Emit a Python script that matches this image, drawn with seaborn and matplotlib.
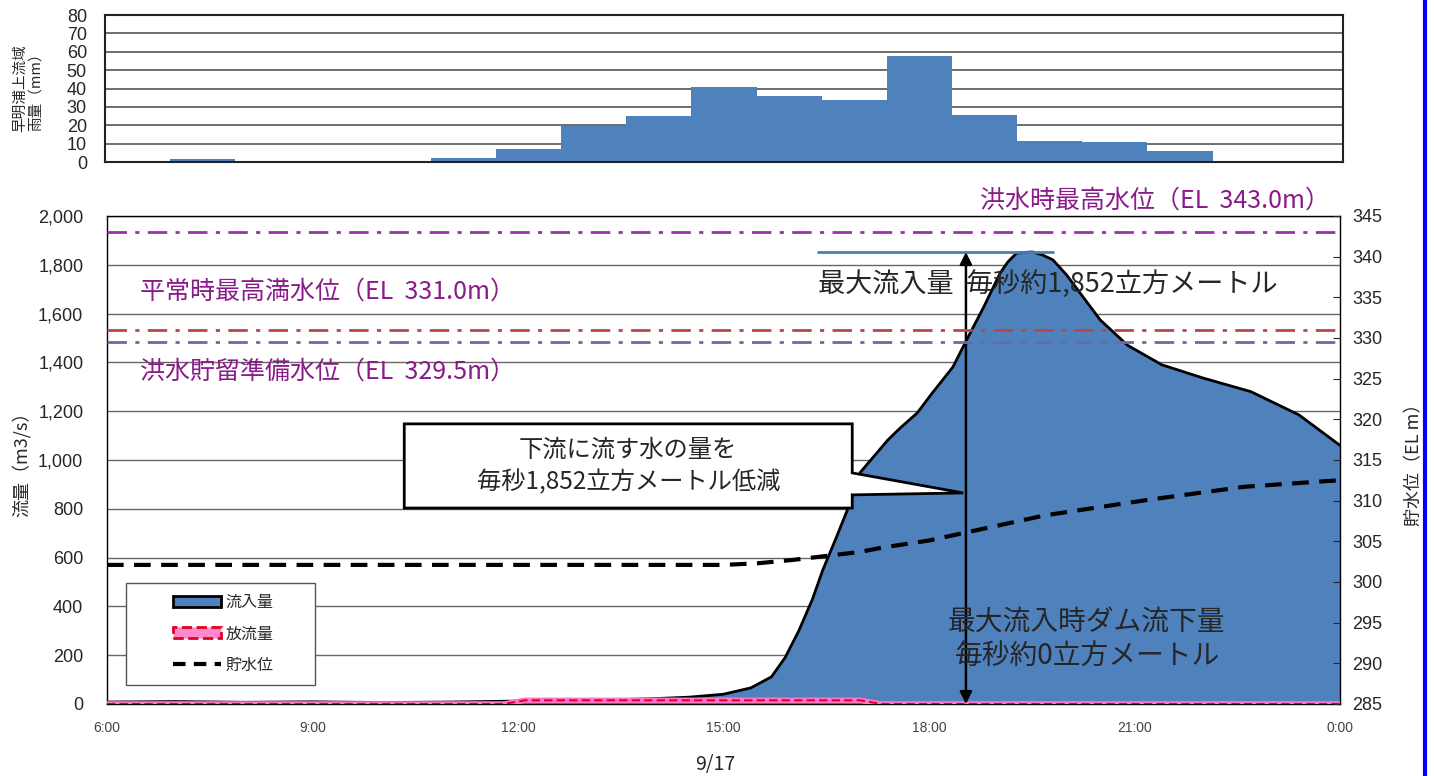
import numpy as np
import seaborn as sns
import matplotlib.pyplot as plt
from matplotlib.patches import Patch, Polygon, Rectangle
from matplotlib.lines import Line2D
from matplotlib.ticker import FuncFormatter

# hourly rainfall (mm), 19 bins
rain = [0.5, 1.6, 0.5, 0, 0, 2, 7.2, 19.4, 25.2, 40.7, 35.8, 33.5, 57.7,
        25.5, 11.4, 10.9, 5.8, 0.5, 0]

# inflow (m3/s) vs hour of day
inflow_hours = [6, 7, 8, 9, 10, 11, 12, 13, 13.5, 14, 14.5, 15, 15.4, 15.7, 15.9,
                16.1, 16.3, 16.45, 16.65, 16.85, 17.0, 17.4, 17.58, 17.83, 18.05,
                18.35, 18.55, 18.8, 19.04, 19.15, 19.28, 19.47, 19.52, 19.66,
                19.81, 20.01, 20.25, 20.5, 20.9, 21.4, 22.0, 22.7, 23.4, 24.0]
inflow = [8, 10, 7, 9, 6, 8, 12, 15, 18, 22, 28, 40, 66, 111, 190, 300, 430, 549,
          684, 824, 950, 1082, 1131, 1193, 1275, 1381, 1492, 1627, 1766, 1811,
          1848, 1852, 1852, 1840, 1820, 1758, 1668, 1574, 1470, 1390, 1336, 1280,
          1185, 1060]

# release (m3/s)
release_hours = [6, 11.8, 12.1, 17.0, 17.3, 24]
release = [0, 0, 15, 15, 0, 0]

# reservoir level (EL m)
level_hours = [6, 15.0, 15.5, 16.0, 16.5, 17.0, 17.3, 18.0, 18.55, 19.7, 21.2,
               22.6, 23.8, 24.0]
level = [302.1, 302.1, 302.3, 302.7, 303.2, 303.7, 304.2, 305.1, 306.1, 308.2,
         310.1, 311.7, 312.4, 312.5]

xtick_pos = [6, 9, 12, 15, 18, 21, 24]
xtick_labels = ['6:00', '9:00', '12:00', '15:00', '18:00', '21:00', '0:00']

sns.set_style('white')
plt.rcParams['font.family'] = ['Noto Sans CJK JP', 'DejaVu Sans']
num_font = ['Liberation Sans Narrow', 'Liberation Sans', 'DejaVu Sans']

blue = '#4F81BD'
purple = '#8B1A8B'

fig = plt.figure(figsize=(14.34, 7.76), dpi=100)

# ---- rainfall panel
ax_top = fig.add_axes([0.0732, 0.7912, 0.8633, 0.1894])
sns.barplot(x=np.arange(len(rain)), y=rain, ax=ax_top, color=blue,
            width=1.0, saturation=1, linewidth=0)
ax_top.set_xlim(-0.5, len(rain) - 0.5)
ax_top.set_ylim(0, 80)
ax_top.set_yticks(range(0, 81, 10))
ax_top.set_xticks([])
ax_top.set_xlabel('')
ax_top.set_axisbelow(True)
ax_top.grid(axis='y', color='#555555', lw=1.2)
for lab in ax_top.get_yticklabels():
    lab.set_family(num_font)
    lab.set_fontsize(13)
ax_top.tick_params(axis='y', length=0, pad=13)
for s in ax_top.spines.values():
    s.set_color('#222222')
    s.set_linewidth(1.5)
ax_top.set_ylabel('早明浦上流域\n雨量（mm）', fontsize=10.5, linespacing=1.2, labelpad=17)

# ---- main panel
ax = fig.add_axes([0.0746, 0.0928, 0.8598, 0.6289])
ax.fill_between(inflow_hours, inflow, color=blue, lw=0, zorder=2)
sns.lineplot(x=inflow_hours, y=inflow, ax=ax, color='black', lw=2, zorder=3)
sns.lineplot(x=release_hours, y=release, ax=ax, color='#FF77CC', lw=4, zorder=4)
ax.plot(release_hours, release, color='#E00020', lw=1.5, ls=(0, (4, 2)), zorder=5)
ax.set_xlim(6, 24)
ax.set_ylim(0, 2000)
ax.set_yticks(range(0, 2001, 200))
ax.yaxis.set_major_formatter(FuncFormatter(lambda v, p: f'{int(v):,}'))
ax.set_xticks(xtick_pos)
ax.set_xticklabels(xtick_labels)
ax.set_xticks(range(6, 25), minor=True)
ax.set_axisbelow(True)
ax.grid(axis='y', color='#666666', lw=1)
ax.tick_params(axis='x', which='both', direction='in', length=4, pad=12,
               colors='#222222', labelcolor='#444444')
ax.tick_params(axis='y', length=0, pad=17)
for lab in ax.get_xticklabels():
    lab.set_family(num_font)
    lab.set_fontsize(10)
for lab in ax.get_yticklabels():
    lab.set_family(num_font)
    lab.set_fontsize(13)
ax.set_ylabel('流量（m3/s）', fontsize=13, labelpad=5)
ax.set_xlabel('')
for s in ax.spines.values():
    s.set_color('black')
    s.set_linewidth(1)

# annotations on flow axis
ax.plot([16.38, 19.81], [1852, 1852], color='#4A7EBB', lw=2, zorder=6)
ax.annotate('', xy=(18.54, 1852), xytext=(18.54, 0),
            arrowprops=dict(arrowstyle='<|-|>', color='black', lw=1.8,
                            mutation_scale=18, shrinkA=0, shrinkB=0), zorder=7)
ax.text(16.38, 1721, '最大流入量  毎秒約1,852立方メートル', fontsize=19.5,
        va='center', ha='left', zorder=8)
callout = Polygon([(10.34, 1148), (16.88, 1148), (16.88, 947), (18.50, 865),
                   (16.88, 857), (16.88, 803), (10.34, 803)],
                  closed=True, facecolor='white', edgecolor='black', lw=2, zorder=8)
ax.add_patch(callout)
ax.text(13.61, 975, '下流に流す水の量を\n毎秒1,852立方メートル低減', fontsize=17.5,
        ha='center', va='center', linespacing=1.35, zorder=9)
ax.text(18.28, 336, '最大流入時ダム流下量', fontsize=20, va='center', zorder=8)
ax.text(18.38, 193, '毎秒約0立方メートル', fontsize=20, va='center', zorder=8)

# ---- level axis
ax2 = ax.twinx()
ax2.set_ylim(285, 345)
ax2.set_yticks(range(285, 346, 5))
sns.lineplot(x=level_hours, y=level, ax=ax2, color='black', lw=3,
             linestyle=(0, (4, 2.5)))
ax2.axhline(343.0, color='#9932A8', lw=2, ls=(0, (7, 3, 1.5, 3)))
ax2.axhline(331.0, color='#B84848', lw=2, ls=(0, (7, 3, 1.5, 3)))
ax2.axhline(329.5, color='#6A6AA8', lw=2, ls=(0, (7, 3, 1.5, 3)))
ax2.tick_params(axis='y', direction='in', length=5, pad=9)
for lab in ax2.get_yticklabels():
    lab.set_family(num_font)
    lab.set_fontsize(13)
ax2.set_ylabel('貯水位（EL m）', fontsize=13, labelpad=16)
ax2.set_xlabel('')
for s in ax2.spines.values():
    s.set_visible(False)

# legend with an Excel-like wide frame
ax2.add_patch(Rectangle((0.0154, 0.039), 0.1533, 0.209, transform=ax2.transAxes,
                        facecolor='white', edgecolor='#555555', lw=1, zorder=15))
handles = [Patch(facecolor=blue, edgecolor='black', lw=2),
           Patch(facecolor='#FF88CC', edgecolor='#E00020', lw=2, ls='--'),
           Line2D([0], [0], color='black', lw=3, ls=(0, (3, 2)))]
leg = ax2.legend(handles, ['流入量', '放流量', '貯水位'], loc='center left',
                 bbox_to_anchor=(0.0535, 0.1435), fontsize=11.5, frameon=False,
                 handlelength=3.0, handleheight=0.7, labelspacing=0.9,
                 borderpad=0, borderaxespad=0, handletextpad=0.3)
leg.set_zorder(20)

# ---- figure texts
fig.text(0.9275, 0.742, '洪水時最高水位（EL  343.0m）', color=purple, fontsize=18,
         ha='right', va='center')
fig.text(0.0976, 0.624, '平常時最高満水位（EL  331.0m）', color=purple, fontsize=18,
         ha='left', va='center')
fig.text(0.0976, 0.5206, '洪水貯留準備水位（EL  329.5m）', color=purple, fontsize=18,
         ha='left', va='center')
fig.text(0.4986, 0.0142, '9/17', fontsize=14, ha='center', va='center')
fig.add_artist(Line2D([0.9937, 0.9937], [0, 1], transform=fig.transFigure,
                      color='#0000FF', lw=3))

fig.savefig('out.png', dpi=100)
